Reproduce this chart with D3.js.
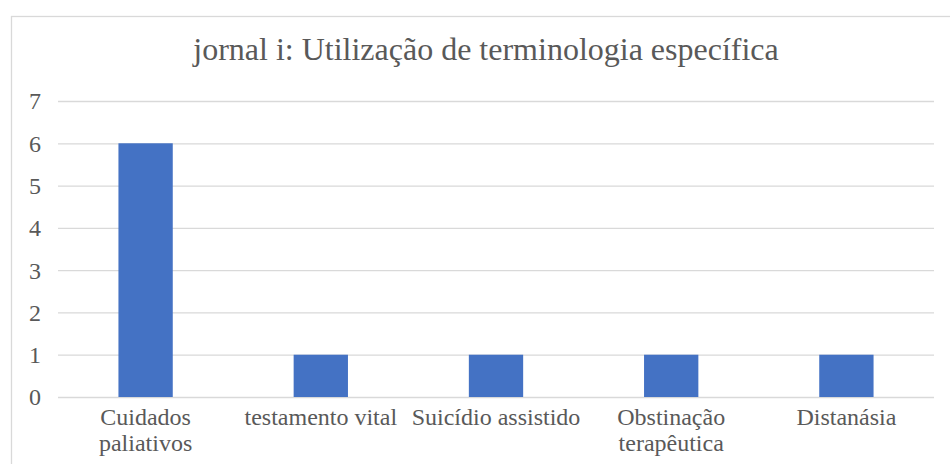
<!DOCTYPE html>
<html>
<head>
<meta charset="utf-8">
<script src="https://cdn.jsdelivr.net/npm/d3@7"></script>
<style>
  body { margin: 0; background: #fff; }
  text { font-family: "Liberation Serif", "Times New Roman", serif; fill: #595959; }
</style>
</head>
<body>
<div id="graf"></div>
<script>
const categorias = [["Cuidados", "paliativos"], ["testamento vital"], ["Suicídio assistido"], ["Obstinação", "terapêutica"], ["Distanásia"]]
const valores = [6, 1, 1, 1, 1]
const ticksY = [0, 1, 2, 3, 4, 5, 6, 7]
const titulo = "jornal i: Utilização de terminologia específica"

const anchoTotal = 950
const altoTotal = 464
const margins = { left: 58, top: 101, right: 16, bottom: 67 }
const ancho = anchoTotal - margins.left - margins.right
const alto = altoTotal - margins.top - margins.bottom

const svg = d3.select("#graf")
  .append("svg")
  .attr("width", anchoTotal)
  .attr("height", altoTotal)

// borde del area del grafico
svg.append("rect")
  .attr("x", 11.5)
  .attr("y", 16.5)
  .attr("width", 960)
  .attr("height", 480)
  .attr("fill", "none")
  .attr("stroke", "#d9d9d9")
  .attr("stroke-width", 1.3)

svg.append("text")
  .attr("x", 486)
  .attr("y", 60)
  .attr("text-anchor", "middle")
  .attr("font-size", 32)
  .text(titulo)

const g = svg.append("g")
  .attr("transform", `translate(${margins.left}, ${margins.top})`)

const x = d3.scaleBand().domain(d3.range(categorias.length)).range([0, ancho]).padding(0)
const y = d3.scaleLinear().domain([0, 7]).range([alto, 0])

const yAxis = d3.axisLeft(y).tickValues(ticksY).tickSize(-ancho).tickFormat(d3.format("d"))

const ejeY = g.append("g").call(yAxis)
ejeY.select(".domain").remove()
ejeY.selectAll("line").attr("stroke", "#d9d9d9").attr("stroke-width", 1.3)
ejeY.selectAll("text")
  .attr("x", -17)
  .attr("font-size", 24)
  .attr("dy", "0.33em")

const anchoBarra = x.bandwidth() * 0.31

g.selectAll("rect.barra").data(valores)
  .enter()
  .append("rect")
  .attr("class", "barra")
  .attr("x", (d, i) => x(i) + (x.bandwidth() - anchoBarra) / 2)
  .attr("y", (d) => y(d))
  .attr("width", anchoBarra)
  .attr("height", (d) => y(0) - y(d))
  .attr("fill", "#4472c4")

const etiquetas = g.selectAll("text.cat").data(categorias)
  .enter()
  .append("text")
  .attr("class", "cat")
  .attr("x", (d, i) => x(i) + x.bandwidth() / 2)
  .attr("y", alto + 28)
  .attr("text-anchor", "middle")
  .attr("font-size", 24)

etiquetas.selectAll("tspan").data((d) => d)
  .enter()
  .append("tspan")
  .attr("x", function () { return d3.select(this.parentNode).attr("x") })
  .attr("dy", (d, i) => i === 0 ? 0 : 26)
  .text((d) => d)
</script>
</body>
</html>
